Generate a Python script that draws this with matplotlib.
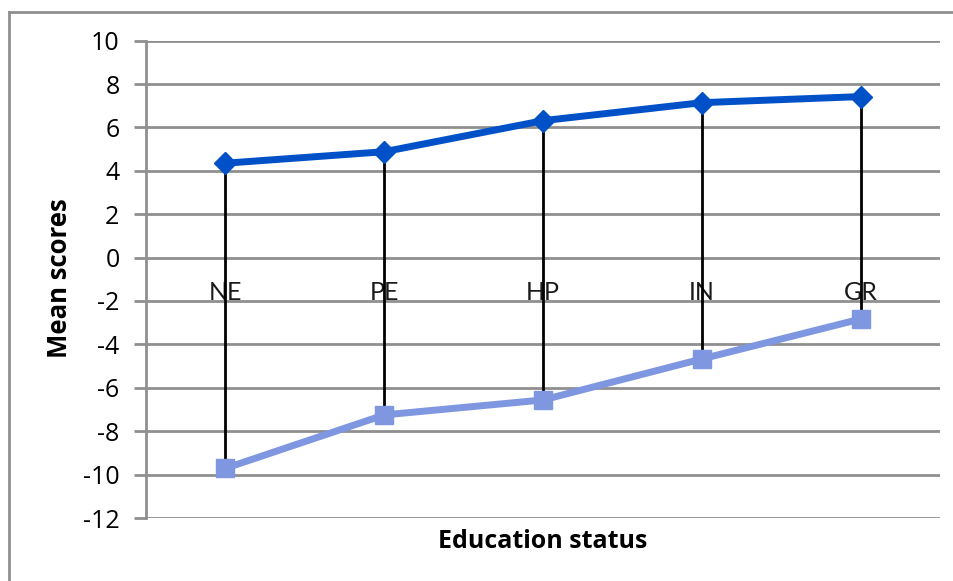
import matplotlib
matplotlib.use("Agg")
import matplotlib.pyplot as plt
from matplotlib.lines import Line2D

categories = ["NE", "PE", "HP", "IN", "GR"]
high_scores = [4.35, 4.88, 6.31, 7.14, 7.42]
low_scores = [-9.71, -7.25, -6.56, -4.67, -2.83]
y_ticks = [10, 8, 6, 4, 2, 0, -2, -4, -6, -8, -10, -12]

W, H, DPI = 954, 581, 100
fig = plt.figure(figsize=(W / DPI, H / DPI), dpi=DPI)
ax = fig.add_axes([146 / W, 1 - 518 / H, (940 - 146) / W, (518 - 40.6) / H])

grid_color = "#8f8f8f"
x = list(range(len(categories)))

# horizontal gridlines
for t in y_ticks:
    ax.axhline(t, color=grid_color, lw=2, zorder=1)

# high-low connectors
ax.vlines(x, low_scores, high_scores, colors="black", lw=2, zorder=3)

ax.plot(x, high_scores, color="#0050c8", lw=5, marker="D", ms=11,
        solid_capstyle="round", zorder=4)
ax.plot(x, low_scores, color="#7f96e0", lw=5, marker="s", ms=13,
        solid_capstyle="round", zorder=4)

# category labels along the zero axis
for xi, c in zip(x, categories):
    ax.text(xi, -1.63, c, ha="center", va="center", fontsize=18,
            family="Lato", color="#1a1a1a", zorder=2)

ax.set_xlim(-0.5, 4.5)
ax.set_ylim(-12, 10)
ax.set_yticks(y_ticks)
ax.set_yticklabels([str(t) for t in y_ticks], fontsize=18, family="Open Sans")
ax.tick_params(axis="y", length=9, width=2, color=grid_color, pad=10)
ax.set_xticks([])

for s in ["top", "right", "bottom"]:
    ax.spines[s].set_visible(False)
ax.spines["left"].set_color(grid_color)
ax.spines["left"].set_linewidth(2)

fig.text(543 / W, 1 - 541 / H, "Education status", ha="center", va="center",
         fontsize=18, fontweight="bold", family="Open Sans")
fig.text(60 / W, 1 - 278 / H, "Mean scores", ha="center", va="center",
         rotation=90, fontsize=18.5, fontweight="bold", family="Open Sans")

# outer chart-area frame (top and left edges)
fig.add_artist(Line2D([9 / W, 9 / W], [0, 1 - 12 / H], transform=fig.transFigure,
                      color=grid_color, lw=2))
fig.add_artist(Line2D([9 / W, 1], [1 - 12 / H, 1 - 12 / H], transform=fig.transFigure,
                      color=grid_color, lw=2))

fig.savefig("out.png", dpi=DPI)
